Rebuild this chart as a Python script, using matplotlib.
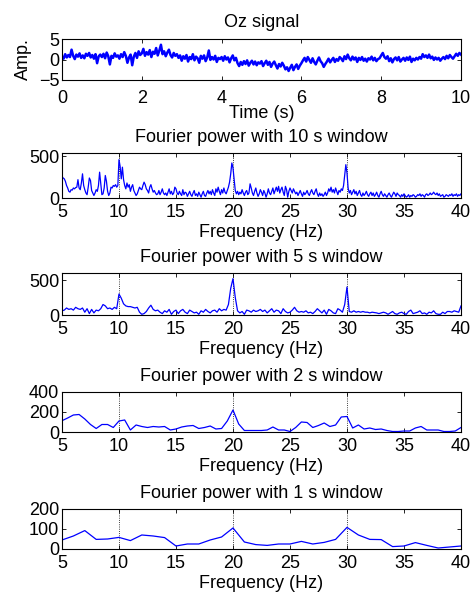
import numpy as np
import matplotlib
matplotlib.use("Agg")
import matplotlib.pyplot as plt

plt.rcParams['font.family'] = ['Liberation Sans', 'DejaVu Sans']

signal = [
    0.8, 0.2, 1.3, 0.5, 1.1, 0.6, 2.4, 0.9, 0.1, 1.2, 0.7, 1.5, 0.4, 1.0, 0.3, 1.4, 0.9, 1.6, 0.5, 1.1, 0.2, 1.3, -0.9, 0.8, 1.2,
    0.6, 1.4, 0.3, 1.7, 0.8, -1.2, 0.9, 0.4, 1.5, 0.7, 1.0, 0.2, 1.3, 0.6, 1.8, 0.9, -0.8, 0.5, 1.2, -1.4, 0.7, 1.6, 0.4, 2.0, 1.1,
    1.5, 2.6, 0.9, 1.8, 1.2, 2.3, 0.6, 1.9, 1.4, 2.8, 1.0, 2.2, 3.6, 1.3, 2.0, 0.8, 1.7, 2.4, 1.1, 0.5, 1.6, 0.9, 1.3, 0.4, 1.0,
    -0.3, 0.8, 0.2, 1.1, -0.5, 0.6, 0.1, 1.3, -0.2, 0.7, 0.3, -0.8, 0.9, 0.2, 1.0, -0.4, 0.5, 2.2, -0.1, 0.6, 0.0, 0.9, -0.6, 0.4, 0.1,
    0.6, -0.3, 0.8, 0.0, 0.5, -0.7, 0.3, 1.0, -0.2, 0.4, -0.9, -1.6, -0.6, -1.3, -0.4, -1.1, -0.2, -1.5, -0.8, -0.3, -1.2, -0.5, -1.4, -0.7, -1.0,
    -0.4, -1.6, -0.9, -0.3, -1.3, -0.6, -1.8, -1.0, -0.5, -1.4, -2.2, -1.1, -1.7, -0.8, -1.5, -2.4, -1.9, -2.8, -2.0, -1.3, -2.6, -1.8, -1.2, -2.3, -1.5,
    -0.9, -0.2, 0.4, -0.5, 0.6, -0.1, -0.8, 0.3, -0.6, -1.2, -0.3, 0.5, -0.4, -0.9, -1.8, -1.1, -0.5, 0.2, -0.7, -0.1, 0.4, -0.6, 0.1, -0.3, 0.6,
    0.2, -0.4, 0.8, 0.1, 1.2, 0.3, -0.2, 0.7, 0.0, 0.5, -0.6, 0.4, -0.1, 0.6, -0.3, 0.2, -0.5, 0.3, 0.0, 0.7, -0.2, 0.4, -0.4, 0.1, 0.3,
    1.0, 1.6, 0.6, 0.2, 0.8, -0.4, 0.3, -0.7, 0.1, 0.5, -0.2, 0.6, -0.5, 0.0, 0.4, -0.3, 0.5, -0.1, 0.7, -0.6, 0.2, -0.2, 0.4, 0.0, 0.6,
    0.2, 1.3, 0.6, 1.0, 0.4, 1.2, 0.3, 0.7, -0.1, 0.5, 0.0, 0.4, -0.3, 0.2, 0.6, 0.1, 0.9, 0.3, 1.1, 0.6, 0.2, 0.8, 1.4, 0.9, 1.6, 1.2,
]

# Fourier power, 10 s window (0.1 Hz steps from 5 to 40 Hz)
power_10s = [
    260, 240, 230, 200, 150, 120, 80, 70, 100, 95,
    120, 110, 125, 130, 220, 120, 100, 180, 290, 150,
    100, 60, 40, 130, 240, 210, 90, 60, 30, 60,
    100, 80, 150, 310, 180, 40, 50, 120, 270, 200,
    80, 30, 60, 130, 120, 150, 140, 160, 130, 150,
    460, 380, 230, 370, 220, 150, 110, 180, 130, 160,
    80, 130, 160, 90, 60, 30, 50, 90, 130, 110,
    100, 150, 190, 160, 110, 90, 60, 130, 160, 110,
    70, 90, 60, 40, 50, 90, 40, 70, 110, 60,
    40, 60, 30, 70, 110, 50, 80, 40, 60, 130,
    110, 60, 40, 80, 50, 30, 100, 40, 70, 60,
    20, 50, 80, 40, 20, 60, 90, 30, 50, 20,
    70, 40, 10, 50, 80, 30, 20, 60, 90, 50,
    80, 40, 100, 60, 30, 110, 70, 130, 80, 40,
    100, 60, 120, 70, 50, 90, 130, 190, 290, 420,
    360, 220, 90, 50, 80, 40, 70, 50, 100, 60,
    30, 70, 90, 40, 60, 170, 120, 60, 30, 80,
    120, 60, 20, 50, 100, 70, 30, 90, 60, 10,
    50, 110, 60, 40, 80, 120, 50, 90, 130, 80,
    140, 60, 100, 130, 70, 30, 140, 100, 10, 80,
    120, 90, 60, 110, 80, 50, 70, 30, 60, 90,
    50, 20, 70, 40, 60, 90, 50, 30, 70, 100,
    60, 40, 80, 110, 50, 20, 60, 30, 50, 20,
    40, 70, 30, 60, 110, 80, 130, 70, 100, 60,
    120, 80, 40, 90, 70, 110, 90, 150, 280, 400,
    300, 120, 60, 90, 40, 70, 100, 50, 80, 30,
    60, 90, 40, 20, 60, 30, 50, 80, 40, 20,
    50, 70, 30, 60, 20, 40, 70, 30, 10, 50,
    80, 40, 20, 50, 30, 10, 40, 60, 30, 10,
    40, 70, 50, 20, 60, 40, 30, 10, 40, 20,
    50, 30, 10, 20, 40, 10, 30, 20, 40, 30,
    10, 20, 40, 30, 50, 20, 40, 30, 10, 40,
    50, 30, 40, 60, 40, 50, 70, 50, 40, 60,
    30, 50, 20, 30, 40, 10, 20, 40, 30, 20,
    40, 30, 50, 20, 40, 30, 50, 20, 40, 30,
    50,
]

# Fourier power, 5 s window (0.2 Hz steps)
power_5s = [
    60, 70, 100, 80, 90,
    70, 110, 90, 80, 100,
    40, 90, 20, 80, 30,
    70, 60, 90, 150, 130,
    90, 100, 80, 110, 90,
    300, 240, 160, 130, 120,
    120, 110, 100, 110, 40,
    10, 20, 50, 100, 140,
    80, 60, 70, 40, 20,
    60, 40, 80, 10, 50,
    70, 20, 60, 80, 40,
    20, 70, 50, 30, 40,
    10, 60, 40, 80, 50,
    30, 60, 70, 40, 90,
    60, 80, 70, 150, 380,
    520, 250, 60, 30, 50,
    10, 70, 60, 40, 70,
    50, 60, 80, 50, 70,
    30, 60, 90, 40, 70,
    60, 20, 90, 50, 30,
    40, 70, 110, 60, 40,
    50, 40, 60, 30, 40,
    20, 50, 90, 60, 30,
    70, 10, 80, 60, 30,
    20, 90, 70, 40, 150,
    400, 50, 40, 60, 40,
    50, 40, 50, 40, 40,
    30, 40, 35, 30, 20,
    30, 40, 30, 10, 30,
    50, 20, 10, 30, 40,
    20, 10, 50, 70, 20,
    30, 40, 60, 20, 30,
    10, 40, 30, 60, 20,
    10, 10, 40, 20, 50,
    50, 40, 60, 50, 40,
    130,
]

# Fourier power, 2 s window (0.5 Hz steps)
power_2s = [
    113, 140, 170, 175, 130, 75, 35, 75, 75, 45,
    110, 120, 20, 70, 55, 45, 55, 50, 55, 20,
    30, 50, 60, 65, 35, 45, 60, 30, 35, 110,
    220, 80, 15, 15, 15, 15, 20, 50, 20, 20,
    5, 45, 100, 95, 45, 65, 90, 55, 70, 150,
    155, 40, 70, 30, 40, 25, 30, 15, 5, 5,
    10, 10, 40, 55, 20, 20, 20, 5, 5, 10,
    45,
]

# Fourier power, 1 s window (1 Hz steps)
power_1s = [
    45, 65, 92, 48, 50, 58, 42, 70, 65, 57,
    15, 25, 25, 45, 60, 105, 35, 22, 18, 25,
    25, 38, 25, 33, 48, 108, 70, 48, 47, 12,
    15, 32, 18, 5, 10, 15,
]

t = np.linspace(0, 10, len(signal))
freq_10 = np.linspace(5, 40, len(power_10s))
freq_5 = np.linspace(5, 40, len(power_5s))
freq_2 = np.linspace(5, 40, len(power_2s))
freq_1 = np.linspace(5, 40, len(power_1s))

fs = 13
fig = plt.figure(figsize=(4.75, 5.93), dpi=100)

boxes = [
    (0.1305, 0.8651, 0.84, 0.0691),
    (0.1305, 0.6661, 0.84, 0.0759),
    (0.1305, 0.4688, 0.84, 0.0708),
    (0.1305, 0.2715, 0.84, 0.0675),
    (0.1305, 0.0742, 0.84, 0.0675),
]
axes = [fig.add_axes(b) for b in boxes]

for ax in axes:
    ax.tick_params(direction='in', top=True, right=True, length=3,
                   width=0.6, labelsize=fs)
    ax.tick_params(axis='x', pad=4)
    ax.tick_params(axis='y', pad=2)
    for s in ax.spines.values():
        s.set_linewidth(0.8)

ax = axes[0]
ax.plot(t, signal, color='#0000ff', lw=1.8)
ax.set_xlim(0, 10)
ax.set_ylim(-5, 5)
ax.set_xticks([0, 2, 4, 6, 8, 10])
ax.set_yticks([-5, 0, 5])
ax.tick_params(axis='x', pad=7)
ax.set_title('Oz signal', fontsize=fs, pad=9)
ax.set_xlabel('Time (s)', fontsize=fs, labelpad=-1.5)
ax.set_ylabel('Amp.', fontsize=fs, labelpad=5)

spectra = [
    (freq_10, power_10s, 540, [0, 500], '10'),
    (freq_5, power_5s, 600, [0, 500], '5'),
    (freq_2, power_2s, 400, [0, 200, 400], '2'),
    (freq_1, power_1s, 200, [0, 100, 200], '1'),
]
for ax, (f, p, ymax, yt, win) in zip(axes[1:], spectra):
    for x in [10, 20, 30]:
        ax.axvline(x, color='k', ls=':', lw=0.6, zorder=0)
    ax.plot(f, p, color='#0000ff', lw=0.9)
    ax.set_xlim(5, 40)
    ax.set_ylim(0, ymax)
    ax.set_xticks(range(5, 41, 5))
    ax.set_yticks(yt)
    ax.set_title('Fourier power with %s s window' % win, fontsize=fs, pad=8)
    ax.set_xlabel('Frequency (Hz)', fontsize=fs, labelpad=2.5)

fig.savefig('out.png', dpi=100)
